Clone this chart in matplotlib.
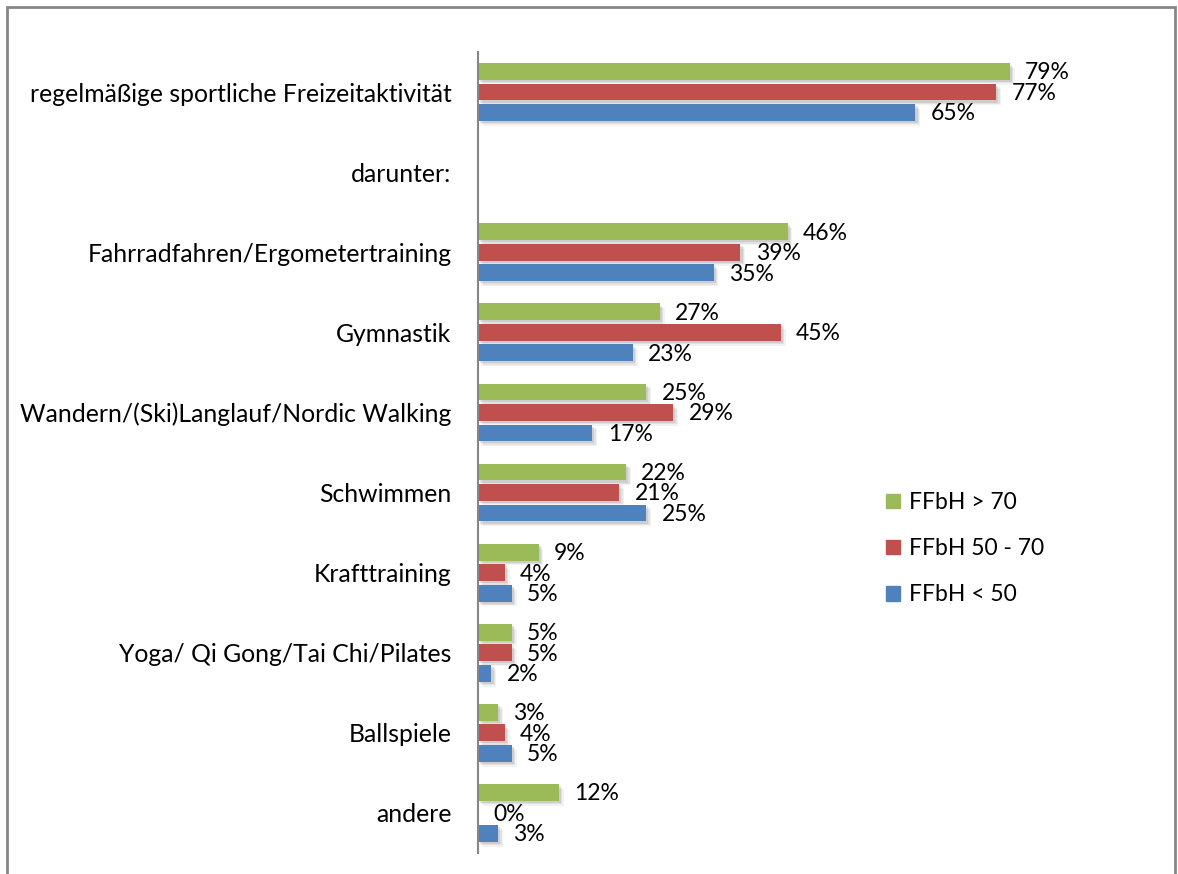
import numpy as np
import matplotlib

matplotlib.use("Agg")
import matplotlib.pyplot as plt
import matplotlib.patheffects as pe
from matplotlib.patches import Rectangle

# --- data -------------------------------------------------------------------
categories = [
    "regelmäßige sportliche Freizeitaktivität",
    "darunter:",
    "Fahrradfahren/Ergometertraining",
    "Gymnastik",
    "Wandern/(Ski)Langlauf/Nordic Walking",
    "Schwimmen",
    "Krafttraining",
    "Yoga/ Qi Gong/Tai Chi/Pilates",
    "Ballspiele",
    "andere",
]
series_names = ["FFbH > 70", "FFbH 50 - 70", "FFbH < 50"]
ffbh_hi = [79, np.nan, 46, 27, 25, 22, 9, 5, 3, 12]
ffbh_mid = [77, np.nan, 39, 45, 29, 21, 4, 5, 4, 0]
ffbh_lo = [65, np.nan, 35, 23, 17, 25, 5, 2, 5, 3]

COLORS = ["#9BBB59", "#C0504D", "#4F81BD"]
FONT = "Lato"

W, H = 1178, 874
fig = plt.figure(figsize=(W / 100, H / 100), dpi=100)
fig.patch.set_facecolor("white")

# axes placed in pixel terms: left edge at x=478, rows of 80 px from y=52
ax_left, ax_top, ax_bot = 478, 52, 853
xmax = 85
ax_w = xmax * 6.73
ax = fig.add_axes([ax_left / W, 1 - ax_bot / H, ax_w / W, (ax_bot - ax_top) / H])

y = np.arange(len(categories))
offs = [-0.256, 0.0, 0.256]
bh = 0.21
# soft drop shadow (a few stacked faint layers to fake the blur)
shadow = [pe.SimplePatchShadow(offset=(d, -d), shadow_rgbFace="#808080", alpha=a)
          for d, a in [(3.5, 0.10), (2.5, 0.15), (1.5, 0.2)]] + [pe.Normal()]

for vals, off, col in zip([ffbh_hi, ffbh_mid, ffbh_lo], offs, COLORS):
    bars = ax.barh(y + off, vals, height=bh, color=col, zorder=2)
    for b in bars:
        b.set_path_effects(shadow)
    for yy, v in zip(y + off, vals):
        if np.isnan(v):
            continue
        ax.annotate(f"{v:.0f}%", xy=(v, yy), xytext=(11, -1), textcoords="offset points",
                    va="center", ha="left", fontsize=16.5, family=FONT, color="black")

ax.set_ylim(len(categories) - 0.5, -0.5)
ax.set_xlim(0, xmax)
ax.set_yticks(y)
ax.set_yticklabels(categories, fontsize=17.8, family=FONT)
ax.tick_params(axis="y", length=0, pad=19)
ax.set_xticks([])
for s in ["top", "right", "bottom"]:
    ax.spines[s].set_visible(False)
ax.spines["left"].set_color("#868686")
ax.spines["left"].set_linewidth(1.5)

# legend (squares + text), placed mid-right
handles = [Rectangle((0, 0), 1, 1, color=c) for c in COLORS]
leg = fig.legend(handles, series_names, loc="upper left",
                 bbox_to_anchor=(886 / W, 1 - 492 / H), frameon=False,
                 borderpad=0, borderaxespad=0,
                 handlelength=0.6, handleheight=0.6, handletextpad=0.4,
                 labelspacing=1.1, prop={"family": FONT, "size": 16.5})

# outer chart frame
fig.add_artist(Rectangle((7 / W, -0.02), (1175 - 7) / W, 1.02 - 7 / H,
                         transform=fig.transFigure, fill=False,
                         edgecolor="#868686", linewidth=2))

fig.savefig("out.png", dpi=100, facecolor="white")
